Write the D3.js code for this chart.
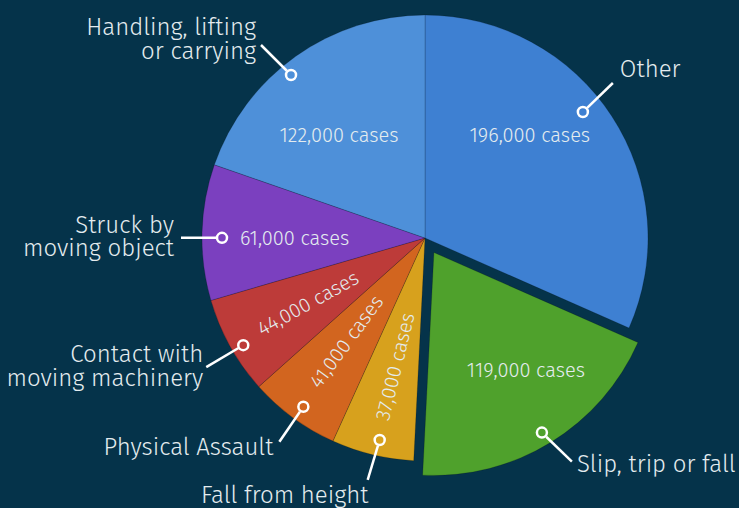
<!DOCTYPE html>
<html>
<head>
<meta charset="utf-8">
<script src="https://cdn.jsdelivr.net/npm/d3@7"></script>
<style>
  html, body { margin: 0; padding: 0; background: #05334a; }
  svg text { font-family: "Fira Sans", Roboto, "Open Sans", sans-serif; font-weight: 300; }
</style>
</head>
<body>
<div id="graph"></div>
<script>
// data
var categories = ["Other", "Slip, trip or fall", "Fall from height", "Physical Assault",
                  "Contact with moving machinery", "Struck by moving object", "Handling, lifting or carrying"];
var cases = [196000, 119000, 37000, 41000, 44000, 61000, 122000];
var labelLines = [["Other"], ["Slip, trip or fall"], ["Fall from height"], ["Physical Assault"],
                  ["Contact with", "moving machinery"], ["Struck by", "moving object"], ["Handling, lifting", "or carrying"]];
var sliceColors = ["#3e80d2", "#4fa12c", "#d7a11d", "#d2651f", "#bd3b39", "#7b40bf", "#4e90d9"];

// layout
var width = 739, height = 508;
var cx = 425, cy = 238, radius = 223;
var explode = [0, 17, 0, 0, 0, 0, 0];
var markerR = [202, 210, 207, 208, 211, 203, 211];
var markerNudge = [-5.5, 0.7, -1, -0.5, -1.5, -1.4, -4];
// value label: mode, radius, angle nudge (deg)
var valueMode = ["flat", "flat", "rot", "rot", "rot", "side", "flat"];
var valueR = [147, 149, 132, 130, 134, 0, 134];
var valueNudge = [-11.4, -6.5, -0.5, 1, 0, 0, -4.5];
// leader lines: offset from marker to line end, then text offset from line end
var leader = [
  {dx: 30, dy: -29, tx: 7, ty: -6, anchor: "start"},
  {dx: 30, dy: 29, tx: 5, ty: 10, anchor: "start"},
  {dx: -12, dy: 40, tx: -83, ty: 23, anchor: "middle"},
  {dx: -24, dy: 35, tx: -6, ty: 13, anchor: "end"},
  {dx: -37, dy: 22, tx: -3, ty: -5, anchor: "end"},
  {dx: -41, dy: 0, tx: -7, ty: -5, anchor: "end"},
  {dx: -30, dy: -30, tx: -5, ty: -10, anchor: "end"}
];
var lineGap = 23.5;
var labelSize = 24, valueSize = 20;

var fmt = d3.format(",");
var deg = 180 / Math.PI;

var polar = function(a, r) { return [r * Math.sin(a), -r * Math.cos(a)]; };

var svg = d3.select("#graph").append("svg")
  .attr("width", width).attr("height", height);

svg.append("rect").attr("width", width).attr("height", height).attr("fill", "#05334a");

var pie = d3.pie().sort(null).value(function(d) { return d; });
var arcs = pie(cases);
var arc = d3.arc().innerRadius(0).outerRadius(radius);

var g = svg.append("g").attr("transform", "translate(" + cx + "," + cy + ")");

// origin of each slice after exploding
var origin = arcs.map(function(d, i) {
  return polar((d.startAngle + d.endAngle) / 2, explode[i]);
});

var slices = g.selectAll("g.slice").data(arcs).enter().append("g")
  .attr("class", "slice")
  .attr("transform", function(d, i) { return "translate(" + origin[i][0] + "," + origin[i][1] + ")"; });

slices.append("path")
  .attr("d", arc)
  .attr("fill", function(d, i) { return sliceColors[i]; })
  .attr("stroke", "rgba(0,0,0,0.18)")
  .attr("stroke-width", 1);

// value labels
slices.each(function(d, i) {
  var mid = (d.startAngle + d.endAngle) / 2;
  var sel = d3.select(this);
  var txt = fmt(cases[i]) + " cases";
  if (valueMode[i] == "side") return;
  var a = mid + valueNudge[i] / deg;
  var p = polar(a, valueR[i]);
  var t = sel.append("text").text(txt)
    .attr("fill", "#e4ecef")
    .attr("font-size", valueSize)
    .attr("text-anchor", "middle")
    .attr("dy", "0.35em");
  if (valueMode[i] == "rot") {
    t.attr("transform", "translate(" + p[0] + "," + p[1] + ") rotate(" + (mid * deg - 270) + ")");
  } else {
    t.attr("x", p[0]).attr("y", p[1]);
  }
});

// markers, leader lines, category labels
slices.each(function(d, i) {
  var mid = (d.startAngle + d.endAngle) / 2 + markerNudge[i] / deg;
  var m = polar(mid, markerR[i]);
  var L = leader[i];
  var sel = d3.select(this);
  var len = Math.sqrt(L.dx * L.dx + L.dy * L.dy);
  var ux = L.dx / len, uy = L.dy / len;

  sel.append("line")
    .attr("x1", m[0] + ux * 6).attr("y1", m[1] + uy * 6)
    .attr("x2", m[0] + L.dx).attr("y2", m[1] + L.dy)
    .attr("stroke", "#ffffff").attr("stroke-width", 2.5);

  sel.append("circle")
    .attr("cx", m[0]).attr("cy", m[1]).attr("r", 5)
    .attr("fill", "none").attr("stroke", "#ffffff").attr("stroke-width", 2.5);

  var lab = sel.append("text")
    .attr("fill", "#e4ecef")
    .attr("font-size", labelSize)
    .attr("text-anchor", L.anchor);
  labelLines[i].forEach(function(s, k) {
    lab.append("tspan")
      .attr("x", m[0] + L.dx + L.tx)
      .attr("y", m[1] + L.dy + L.ty + k * lineGap)
      .text(s);
  });

  if (valueMode[i] == "side") {
    sel.append("text").text(fmt(cases[i]) + " cases")
      .attr("fill", "#e4ecef")
      .attr("font-size", valueSize)
      .attr("x", m[0] + 18).attr("y", m[1])
      .attr("dy", "0.35em");
  }
});
</script>
</body>
</html>
